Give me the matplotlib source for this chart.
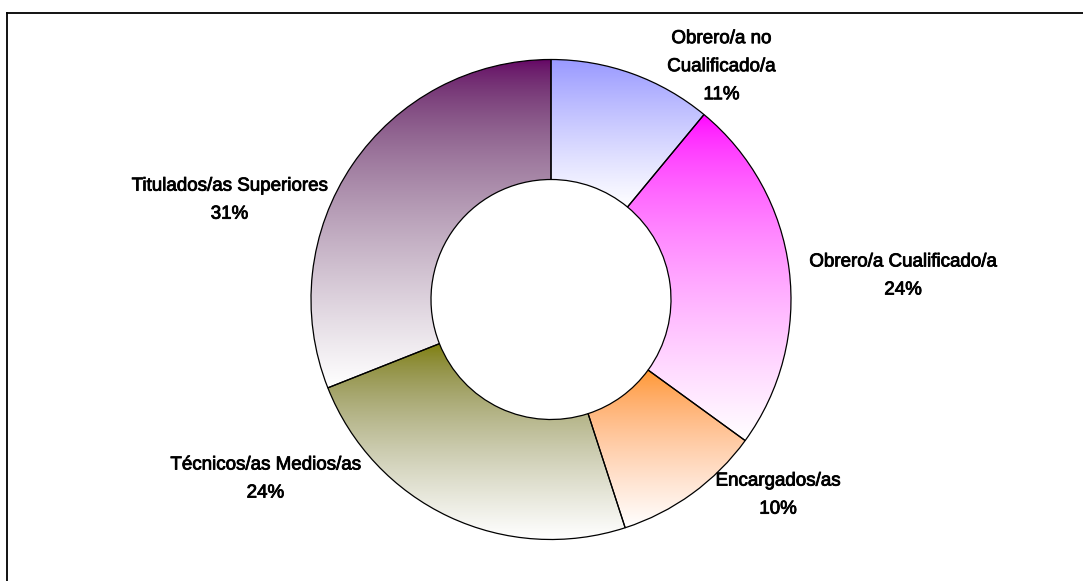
import numpy as np
import matplotlib
matplotlib.use("Agg")
import matplotlib.pyplot as plt
from matplotlib.colors import to_rgb
from matplotlib.lines import Line2D
import matplotlib.patheffects as pe

# ---- data ----
categories = ["Obrero/a no\nCualificado/a", "Obrero/a Cualificado/a", "Encargados/as",
              "Técnicos/as Medios/as", "Titulados/as Superiores"]
values = [11, 24, 10, 24, 31]
colors = ["#9999FF", "#FF00FF", "#FF9933", "#808000", "#660066"]

# label layout (data units, relative to pie centre, radius = 1)
label_xy = [(0.71, 0.97), (1.467, 0.098), (0.946, -0.815), (-1.19, -0.748), (-1.34, 0.414)]

W, H, DPI = 1083, 581, 100
fig = plt.figure(figsize=(W / DPI, H / DPI), dpi=DPI)
ax = fig.add_axes([0, 0, 1, 1])
R = 240.0
cx, cy = 551.0, H - 299.5

wedges, _ = ax.pie(values, startangle=90, counterclock=False, radius=1.0,
                   wedgeprops=dict(width=0.5, edgecolor="black", linewidth=0.9),
                   colors=colors, frame=False)
ax.set_xlim(-cx / R, (W - cx) / R)
ax.set_ylim(-cy / R, (H - cy) / R)
ax.set_aspect("auto")
ax.axis("off")

GAMMA = 1.6
for w, c in zip(wedges, colors):
    ext = w.get_path().get_extents()
    top = np.array(to_rgb(c)) ** GAMMA
    t = np.linspace(0, 1, 256)[:, None]
    grad = (top[None, :] * (1 - t) + t) ** (1 / GAMMA)
    img = np.repeat(grad[:, None, :], 2, axis=1)
    im = ax.imshow(img, extent=[ext.x0, ext.x1, ext.y0, ext.y1], origin="upper",
                   aspect="auto", interpolation="bilinear", zorder=1)
    im.set_clip_path(w)
    w.set_facecolor("none")
    w.set_zorder(2)

font = ["Liberation Sans", "DejaVu Sans"]
for (lx, ly), cat, v in zip(label_xy, categories, values):
    ax.text(lx, ly, f"{cat}\n{v}%", ha="center", va="center", fontsize=13.5,
            family=font, linespacing=1.85, color="black", zorder=3,
            path_effects=[pe.withStroke(linewidth=0.6, foreground="black")])

# chart frame (only top and left edges visible in the crop)
fig.add_artist(Line2D([6.5 / W, 6.5 / W], [0, 1 - 12.5 / H], transform=fig.transFigure,
                      color="black", linewidth=1.3))
fig.add_artist(Line2D([6.5 / W, 1], [1 - 12.5 / H, 1 - 12.5 / H], transform=fig.transFigure,
                      color="black", linewidth=1.3))

fig.savefig("out.png", dpi=DPI)
